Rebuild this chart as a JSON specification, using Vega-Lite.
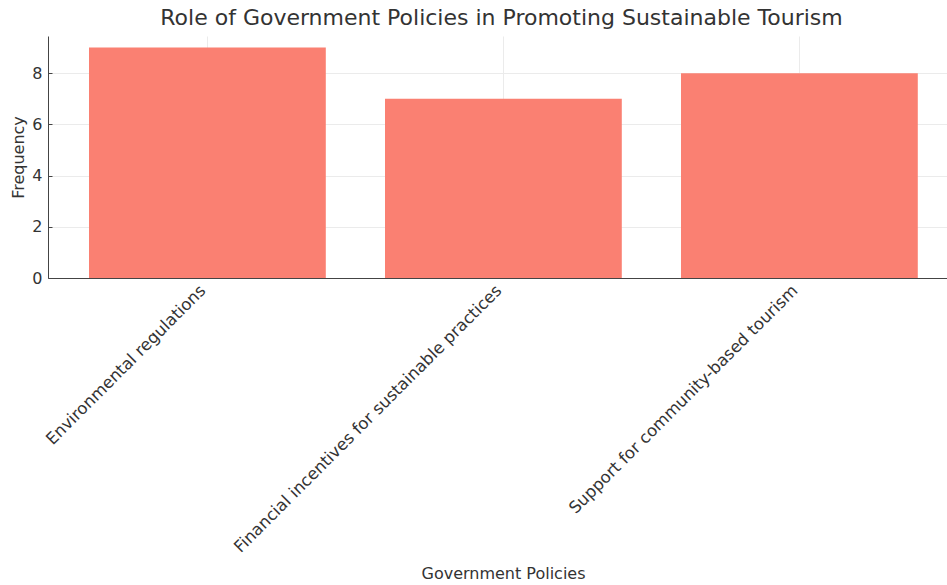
{
  "$schema": "https://vega.github.io/schema/vega-lite/v6.json",
  "width": 899,
  "height": 242,
  "autosize": {"type": "none"},
  "padding": {"left": 48, "top": 36, "right": 0, "bottom": 307},
  "background": "white",
  "title": {
    "text": "Role of Government Policies in Promoting Sustainable Tourism",
    "font": "DejaVu Sans",
    "fontSize": 22,
    "fontWeight": "normal",
    "color": "#333333",
    "anchor": "middle",
    "dx": 4,
    "offset": 6
  },
  "data": {
    "values": [
      {"policy": "Environmental regulations", "frequency": 9},
      {"policy": "Financial incentives for sustainable practices", "frequency": 7},
      {"policy": "Support for community-based tourism", "frequency": 8}
    ]
  },
  "mark": {"type": "bar", "color": "#FA8072"},
  "encoding": {
    "x": {
      "field": "policy",
      "type": "nominal",
      "sort": null,
      "scale": {"paddingInner": 0.2, "paddingOuter": 0.1186, "align": 0.584},
      "axis": {
        "title": "Government Policies",
        "titleFont": "DejaVu Sans",
        "titleFontSize": 16,
        "titleFontWeight": "normal",
        "titleColor": "#333333",
        "titleX": 455,
        "titleY": 295,
        "titleBaseline": "middle",
        "labelAngle": -45,
        "labelAlign": "right",
        "labelBaseline": "top",
        "labelFont": "DejaVu Sans",
        "labelFontSize": 16.5,
        "labelColor": "#333333",
        "labelPadding": 8,
        "labelOffset": -10,
        "labelLimit": 0,
        "tickSize": -4,
        "tickColor": "#444444",
        "domainColor": "#444444",
        "grid": true,
        "gridColor": "#ebebeb",
        "gridWidth": 1,
        "bandPosition": 0.5
      }
    },
    "y": {
      "field": "frequency",
      "type": "quantitative",
      "scale": {"domain": [0, 9.45], "nice": false},
      "axis": {
        "title": "Frequency",
        "titleFont": "DejaVu Sans",
        "titleFontSize": 16,
        "titleFontWeight": "normal",
        "titleColor": "#333333",
        "titleX": -30,
        "titleY": 121,
        "titleBaseline": "middle",
        "titleAlign": "center",
        "values": [0, 2, 4, 6, 8],
        "labelFont": "DejaVu Sans",
        "labelFontSize": 16,
        "labelColor": "#333333",
        "labelPadding": 10,
        "tickSize": -4,
        "tickColor": "#444444",
        "domainColor": "#444444",
        "grid": true,
        "gridColor": "#ebebeb",
        "gridWidth": 1
      }
    }
  },
  "config": {"view": {"stroke": null}}
}
